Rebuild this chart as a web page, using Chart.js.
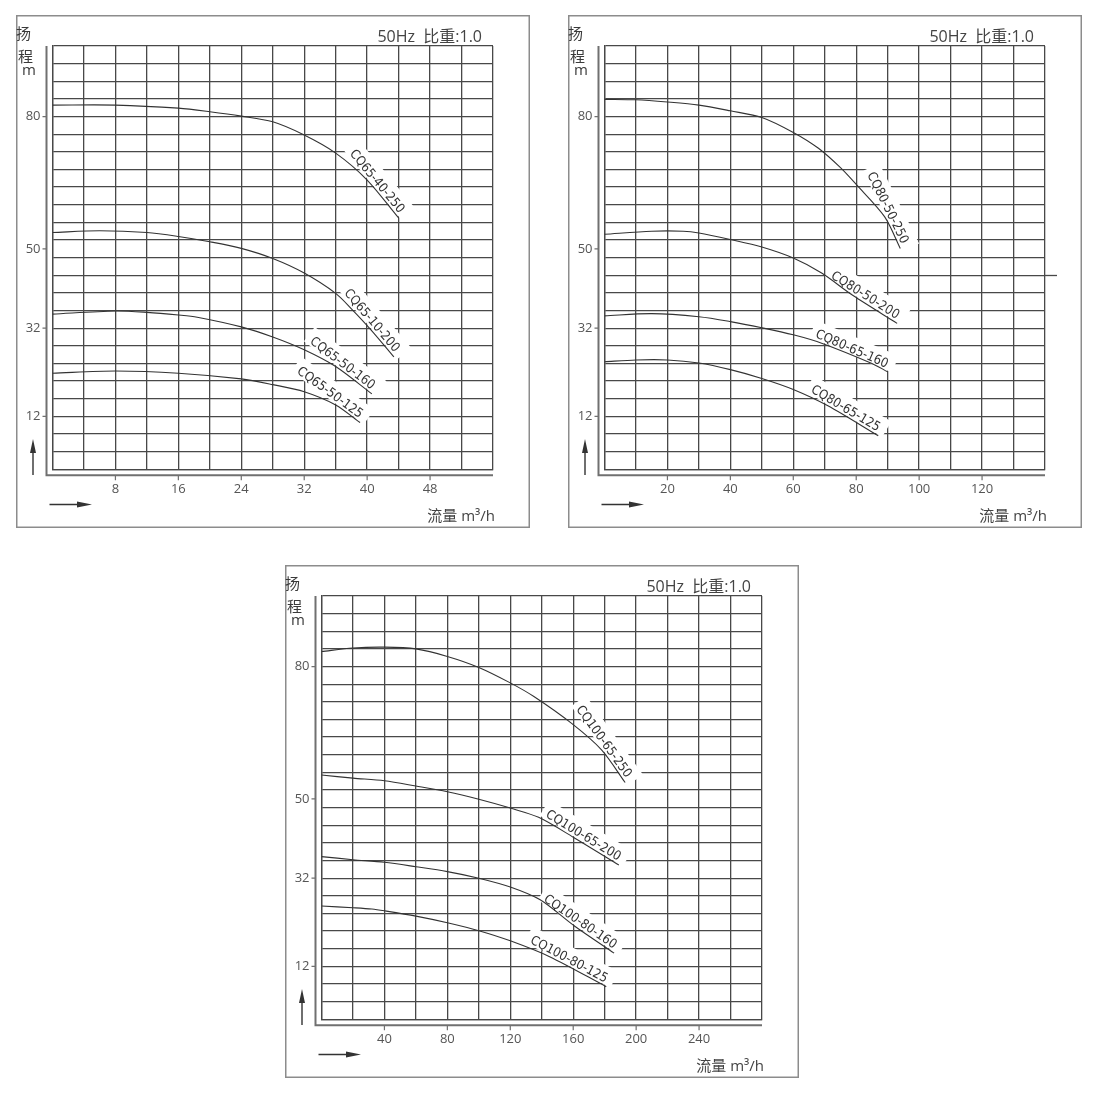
<!DOCTYPE html>
<html lang="zh">
<head>
<meta charset="utf-8">
<title>CQ 磁力泵性能曲线</title>
<script src="https://cdn.jsdelivr.net/npm/chart.js@4.4.0/dist/chart.umd.min.js"></script>
<style>
  html, body { margin: 0; padding: 0; background: #fff; }
  body { width: 1100px; height: 1098px; position: relative; overflow: hidden; }
  canvas { position: absolute; }
  #c65 { left: 16px; top: 15px; }
  #c80 { left: 568px; top: 15px; }
  #c100 { left: 285px; top: 565px; }
</style>
</head>
<body>
<canvas id="c65" width="514" height="513"></canvas>
<canvas id="c80" width="514" height="513"></canvas>
<canvas id="c100" width="514" height="513"></canvas>
<script>
// ---- 数据 ----
const yLabels = [12, 32, 50, 80];

// CQ65 系列
const xLabels65 = [8, 16, 24, 32, 40, 48];
const names65 = ['CQ65-40-250', 'CQ65-10-200', 'CQ65-50-160', 'CQ65-50-125'];
const q65_250 = [0, 8, 16, 20, 24, 28, 32, 36, 40, 44];
const h65_250 = [82.6, 82.6, 81.9, 81.1, 80.1, 78.8, 75.8, 71.7, 65.6, 57.0];
const q65_200 = [0, 6, 12, 16, 20, 24, 28, 32, 36, 38, 40.4, 43.4];
const h65_200 = [53.7, 54.1, 53.7, 52.8, 51.6, 50.1, 47.8, 44.5, 39.9, 36.4, 31.8, 25.5];
const q65_160 = [0, 8, 12, 16, 18.4, 24, 28, 32, 36, 40.6];
const h65_160 = [35.2, 35.9, 35.6, 35.0, 34.5, 32.3, 30.0, 27.1, 23.3, 17.1];
const q65_125 = [0, 8, 16, 24, 28, 32, 36, 39.1];
const h65_125 = [21.8, 22.3, 21.8, 20.5, 19.2, 17.6, 14.6, 10.6];

// CQ80 系列
const xLabels80 = [20, 40, 60, 80, 100, 120];
const names80 = ['CQ80-50-250', 'CQ80-50-200', 'CQ80-65-160', 'CQ80-65-125'];
const q80_250 = [0, 10, 20, 30, 40, 50, 60, 68, 75, 80, 89, 94];
const h80_250 = [83.9, 83.8, 83.3, 82.6, 81.3, 79.8, 76.4, 72.8, 68.4, 64.6, 57.3, 50.1];
const q80_200 = [0, 15, 25, 30, 40, 50, 60, 69, 79, 93];
const h80_200 = [53.3, 54.0, 54.0, 53.6, 52.1, 50.4, 47.9, 44.5, 39.4, 33.1];
const q80_160 = [0, 15, 30, 40, 50, 60, 69, 85, 90];
const h80_160 = [34.8, 35.3, 34.6, 33.5, 32.1, 30.5, 28.6, 24.0, 22.1];
const q80_125 = [0, 10, 20, 30, 40, 50, 60, 71, 87];
const h80_125 = [24.4, 24.8, 24.8, 24.1, 22.6, 20.6, 18.1, 14.4, 7.6];

// CQ100 系列
const xLabels100 = [40, 80, 120, 160, 200, 240];
const names100 = ['CQ100-65-250', 'CQ100-65-200', 'CQ100-80-160', 'CQ100-80-125'];
const q100_250 = [0, 20, 40, 60, 80, 100, 120, 135, 159, 178, 193];
const h100_250 = [83.4, 84.2, 84.4, 84.0, 82.3, 79.8, 76.3, 73.2, 67.1, 61.1, 53.7];
const q100_200 = [0, 20, 40, 60, 80, 100, 120, 138, 160, 189];
const h100_200 = [55.4, 54.7, 54.1, 52.9, 51.6, 49.9, 47.9, 45.8, 41.3, 35.0];
const q100_160 = [0, 20, 40, 60, 80, 100, 120, 139, 161, 186];
const h100_160 = [36.9, 36.2, 35.6, 34.6, 33.5, 32.0, 30.0, 27.1, 21.1, 15.0];
const q100_125 = [0, 20, 32, 40, 60, 80, 100, 120, 145, 181];
const h100_125 = [25.7, 25.3, 25.0, 24.6, 23.4, 21.9, 20.1, 17.8, 14.2, 7.4];

// ---- 版面 ----
const GRID = { left: 36.5, top: 31, right: 477, bottom: 454.3 };
const Y_MAX = 96, Y_STEP = 4;
const INK = '#333';
const GRID_COLOR = '#484848';
const LABEL_FONT = '13px "Liberation Sans Narrow", "DejaVu Sans Condensed", sans-serif';

Chart.defaults.font.family = '"Open Sans", "Noto Sans CJK SC", sans-serif';
Chart.defaults.font.size = 13;
Chart.defaults.color = '#555';

function gridValues(max, step, extra) {
  const out = [];
  for (let v = 0; v <= max; v += step) out.push(v);
  (extra || []).forEach(v => { if (!out.includes(v)) out.push(v); });
  return out.sort((a, b) => a - b);
}

// 曲线末端的位置和方向（用来放型号标签）
function labelGeom(chart, i) {
  const pts = chart.getDatasetMeta(i).data;
  const e = pts[pts.length - 1];
  let s = pts[0];
  for (let k = pts.length - 2; k >= 0; k--) {
    if (Math.hypot(e.x - pts[k].x, e.y - pts[k].y) >= 28) { s = pts[k]; break; }
  }
  return { x: e.x, y: e.y, a: Math.atan2(e.y - s.y, e.x - s.x) };
}

function deco(xLabels, strayY) {
  return {
    id: 'deco',
    beforeDraw(chart) {
      const ctx = chart.ctx;
      ctx.save();
      ctx.fillStyle = '#fff';
      ctx.fillRect(0, 0, chart.width, chart.height);
      ctx.strokeStyle = '#8c8c8c';
      ctx.lineWidth = 1.5;
      ctx.strokeRect(0.75, 0.75, chart.width - 1.5, chart.height - 1.5);
      ctx.restore();
    },
    // 标签下面的白底，盖住网格线
    beforeDatasetsDraw(chart) {
      const ctx = chart.ctx;
      ctx.save();
      ctx.font = LABEL_FONT;
      chart.data.datasets.forEach((ds, i) => {
        const g = labelGeom(chart, i);
        const w = ctx.measureText(ds.label).width;
        ctx.save();
        ctx.translate(g.x, g.y);
        ctx.rotate(g.a);
        ctx.fillStyle = '#fff';
        ctx.fillRect(-w - 8, -19, w + 12, 18);
        ctx.restore();
      });
      ctx.restore();
    },
    afterDatasetsDraw(chart) {
      const ctx = chart.ctx;
      ctx.save();
      ctx.font = LABEL_FONT;
      ctx.fillStyle = INK;
      ctx.textAlign = 'right';
      ctx.textBaseline = 'alphabetic';
      chart.data.datasets.forEach((ds, i) => {
        const g = labelGeom(chart, i);
        ctx.save();
        ctx.translate(g.x, g.y);
        ctx.rotate(g.a);
        ctx.fillText(ds.label, -3, -3);
        ctx.restore();
      });
      ctx.restore();
    },
    afterDraw(chart) {
      const { ctx, chartArea: a, scales } = chart;
      const ax = a.left - 6, ay = a.bottom + 6;
      ctx.save();
      // 伸出网格外的一段线
      if (strayY !== undefined) {
        const y = Math.round(scales.y.getPixelForValue(strayY)) + 0.5;
        ctx.strokeStyle = GRID_COLOR;
        ctx.lineWidth = 1.3;
        ctx.beginPath();
        ctx.moveTo(a.right, y); ctx.lineTo(a.right + 12, y);
        ctx.stroke();
      }
      // 坐标轴
      ctx.strokeStyle = '#707070';
      ctx.lineWidth = 2;
      ctx.beginPath();
      ctx.moveTo(ax, a.top); ctx.lineTo(ax, ay); ctx.lineTo(a.right, ay);
      ctx.stroke();
      // 刻度
      ctx.lineWidth = 1.2;
      ctx.beginPath();
      yLabels.forEach(v => {
        const y = scales.y.getPixelForValue(v);
        ctx.moveTo(ax - 4, y); ctx.lineTo(ax, y);
      });
      xLabels.forEach(v => {
        const x = scales.x.getPixelForValue(v);
        ctx.moveTo(x, ay); ctx.lineTo(x, ay + 5);
      });
      ctx.stroke();
      // 箭头
      ctx.strokeStyle = INK;
      ctx.fillStyle = INK;
      ctx.lineWidth = 1.4;
      ctx.beginPath();
      ctx.moveTo(17, 460); ctx.lineTo(17, 436);
      ctx.moveTo(33.5, 489.5); ctx.lineTo(62, 489.5);
      ctx.stroke();
      ctx.beginPath();
      ctx.moveTo(17, 424); ctx.lineTo(14, 438); ctx.lineTo(20, 438); ctx.closePath();
      ctx.moveTo(76, 489.5); ctx.lineTo(61, 486.5); ctx.lineTo(61, 492.5); ctx.closePath();
      ctx.fill();
      // 文字
      ctx.fillStyle = '#3a3a3a';
      ctx.textAlign = 'center';
      ctx.textBaseline = 'middle';
      ctx.font = '15px "Noto Sans CJK SC", sans-serif';
      ctx.fillText('扬', 7.5, 18.5);
      ctx.fillText('程', 9.5, 41);
      ctx.font = '15px "Open Sans", sans-serif';
      ctx.fillText('m', 13, 56);
      ctx.textAlign = 'right';
      ctx.textBaseline = 'alphabetic';
      ctx.fillStyle = '#444';
      ctx.font = '16px "Open Sans", "Noto Sans CJK SC", sans-serif';
      ctx.fillText('50Hz  比重:1.0', 466, 27);
      ctx.font = '15px "Open Sans", "Noto Sans CJK SC", sans-serif';
      ctx.fillText('流量 m³/h', 479, 506);
      ctx.restore();
    }
  };
}

function makeChart(id, xMax, xStep, xLabels, names, qs, hs, strayY) {
  const canvas = document.getElementById(id);
  new Chart(canvas, {
    type: 'line',
    data: {
      datasets: names.map((name, i) => ({
        label: name,
        data: qs[i].map((q, k) => ({ x: q, y: hs[i][k] })),
        borderColor: INK,
        borderWidth: 1.1,
        pointRadius: 0,
        tension: 0.3,
        fill: false
      }))
    },
    options: {
      responsive: false,
      animation: false,
      events: [],
      layout: { padding: { left: 0, top: GRID.top, right: canvas.width - GRID.right, bottom: 0 } },
      plugins: { legend: { display: false }, tooltip: { enabled: false } },
      scales: {
        x: {
          type: 'linear',
          min: 0,
          max: xMax,
          afterBuildTicks: s => { s.ticks = gridValues(xMax, xStep).map(v => ({ value: v })); },
          afterFit: s => {
            s.height = canvas.height - GRID.bottom;
            s.paddingLeft = s.paddingRight = s.paddingTop = s.paddingBottom = 0;
          },
          ticks: {
            autoSkip: false,
            maxRotation: 0,
            padding: 12,
            callback: v => xLabels.includes(v) ? String(v) : ''
          },
          grid: { color: GRID_COLOR, lineWidth: 1.3, drawTicks: false },
          border: { color: GRID_COLOR, width: 1.3 }
        },
        y: {
          type: 'linear',
          min: 0,
          max: Y_MAX,
          afterBuildTicks: s => { s.ticks = gridValues(Y_MAX, Y_STEP, yLabels).map(v => ({ value: v })); },
          afterFit: s => {
            s.width = GRID.left;
            s.paddingLeft = s.paddingRight = s.paddingTop = s.paddingBottom = 0;
          },
          ticks: {
            autoSkip: false,
            padding: 12,
            callback: v => yLabels.includes(v) ? String(v) : ''
          },
          grid: {
            color: c => (c.tick && c.tick.value % Y_STEP !== 0) ? 'rgba(0,0,0,0)' : GRID_COLOR,
            lineWidth: 1.3,
            drawTicks: false
          },
          border: { color: GRID_COLOR, width: 1.3 }
        }
      }
    },
    plugins: [deco(xLabels, strayY)]
  });
}

makeChart('c65', 56, 4, xLabels65, names65,
  [q65_250, q65_200, q65_160, q65_125], [h65_250, h65_200, h65_160, h65_125]);
makeChart('c80', 140, 10, xLabels80, names80,
  [q80_250, q80_200, q80_160, q80_125], [h80_250, h80_200, h80_160, h80_125], 44);
makeChart('c100', 280, 20, xLabels100, names100,
  [q100_250, q100_200, q100_160, q100_125], [h100_250, h100_200, h100_160, h100_125]);
</script>
</body>
</html>
